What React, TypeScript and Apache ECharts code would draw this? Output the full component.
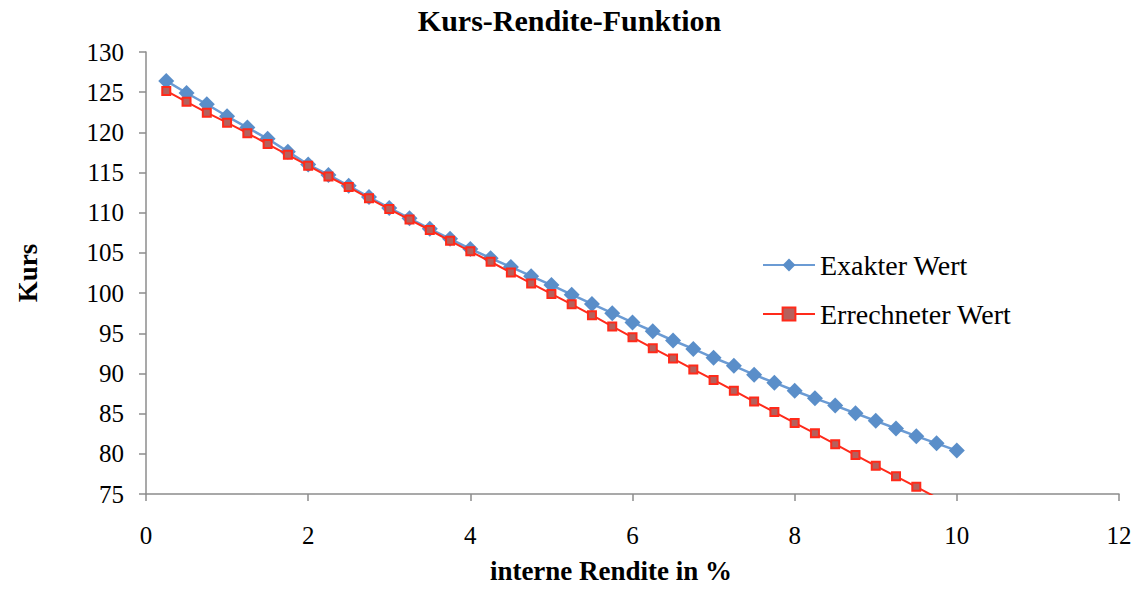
import React, { useEffect, useRef } from "react";
import * as echarts from "echarts";

const rendite = [
  0.25, 0.5, 0.75, 1.0, 1.25, 1.5, 1.75, 2.0, 2.25, 2.5,
  2.75, 3.0, 3.25, 3.5, 3.75, 4.0, 4.25, 4.5, 4.75, 5.0,
  5.25, 5.5, 5.75, 6.0, 6.25, 6.5, 6.75, 7.0, 7.25, 7.5,
  7.75, 8.0, 8.25, 8.5, 8.75, 9.0, 9.25, 9.5, 9.75, 10.0,
];

const exakterWert = [
  126.4, 124.9, 123.5, 122.0, 120.6, 119.2, 117.6, 116.0, 114.7, 113.35,
  111.95, 110.6, 109.3, 108.0, 106.75, 105.5, 104.35, 103.25, 102.1, 101.0,
  99.8, 98.65, 97.5, 96.35, 95.25, 94.1, 93.05, 91.95, 90.95, 89.85,
  88.85, 87.85, 86.9, 86.0, 85.05, 84.1, 83.15, 82.2, 81.3, 80.4,
];

const errechneterWert = [
  125.15, 123.8, 122.45, 121.2, 119.9, 118.55, 117.2, 115.85, 114.5, 113.2,
  111.8, 110.45, 109.15, 107.85, 106.5, 105.2, 103.9, 102.55, 101.2, 99.9,
  98.6, 97.25, 95.85, 94.5, 93.15, 91.85, 90.5, 89.2, 87.85, 86.5,
  85.2, 83.85, 82.55, 81.2, 79.85, 78.5, 77.2, 75.9, 74.55, 73.2,
];

const seriesNames = ["Exakter Wert", "Errechneter Wert"];
const titleText = "Kurs-Rendite-Funktion";
const xAxisName = "interne Rendite in %";
const yAxisName = "Kurs";

const FONT = "'Liberation Serif', 'DejaVu Serif', serif";

export default function App() {
  const ref = useRef<HTMLDivElement>(null);

  useEffect(() => {
    if (!ref.current) return;
    const chart = echarts.init(ref.current, null, { renderer: "svg" });
    const axisColor = "#8c8c8c";
    chart.setOption({
      animation: false,
      backgroundColor: "#ffffff",
      textStyle: { fontFamily: FONT },
      title: {
        text: titleText,
        left: "center",
        top: 0,
        textStyle: { fontFamily: FONT, fontSize: 30, fontWeight: "bold", color: "#000" },
      },
      legend: {
        orient: "vertical",
        left: 762,
        top: 251,
        padding: 0,
        itemGap: 21,
        itemWidth: 52,
        itemHeight: 16,
        textStyle: { fontFamily: FONT, fontSize: 28, color: "#000" },
        data: seriesNames,
      },
      graphic: [
        {
          type: "text",
          x: 611,
          y: 571,
          style: {
            text: xAxisName,
            fontFamily: FONT,
            fontSize: 27,
            fontWeight: "bold",
            fill: "#000",
            align: "center",
            verticalAlign: "middle",
          },
        },
      ],
      grid: { left: 146, right: 20, top: 52, bottom: 98, containLabel: false, outerBoundsMode: "none" },
      xAxis: {
        type: "value",
        min: 0,
        max: 12,
        interval: 2,
        axisLine: { show: true, onZero: false, lineStyle: { color: axisColor, width: 1.5 } },
        axisTick: { show: true, inside: false, length: 7, lineStyle: { color: axisColor, width: 1.5 } },
        axisLabel: { fontFamily: FONT, fontSize: 25, color: "#000", margin: 29 },
        splitLine: { show: false },
      },
      yAxis: {
        type: "value",
        min: 75,
        max: 130,
        interval: 5,
        name: yAxisName,
        nameLocation: "middle",
        nameGap: 105,
        nameRotate: 90,
        nameMoveOverlap: false,
        nameTextStyle: { fontFamily: FONT, fontSize: 27, fontWeight: "bold", color: "#000" },
        axisLine: { show: true, lineStyle: { color: axisColor, width: 1.5 } },
        axisTick: { show: true, inside: false, length: 7, lineStyle: { color: axisColor, width: 1.5 } },
        axisLabel: { fontFamily: FONT, fontSize: 25, color: "#000", margin: 22 },
        splitLine: { show: false },
      },
      series: [
        {
          name: seriesNames[0],
          type: "line",
          clip: true,
          data: rendite.map((x, i) => [x, exakterWert[i]]),
          symbol: "diamond",
          symbolSize: 16,
          lineStyle: { color: "#6b9bd4", width: 2.5 },
          itemStyle: { color: "#5a8ec9", borderColor: "#5a8ec9", borderWidth: 0 },
          z: 2,
        },
        {
          name: seriesNames[1],
          type: "line",
          clip: true,
          data: rendite.map((x, i) => [x, errechneterWert[i]]),
          symbol: "rect",
          symbolSize: 8,
          lineStyle: { color: "#ff2a1a", width: 2 },
          itemStyle: { color: "#b5605c", borderColor: "#ff2a1a", borderWidth: 2 },
          z: 3,
        },
      ],
    });
    return () => chart.dispose();
  }, []);

  return <div ref={ref} style={{ width: 1139, height: 592, margin: -8 }} />;
}
